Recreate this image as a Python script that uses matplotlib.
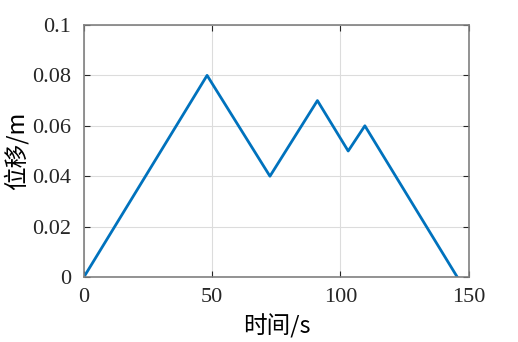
import numpy as np
import matplotlib
matplotlib.use("Agg")
import matplotlib.pyplot as plt

# time (s) and displacement (m)
t = [0, 48, 72.5, 91, 103, 109.5, 145.5]
disp = [0, 0.08, 0.04, 0.07, 0.05, 0.06, 0]

xticks = [0, 50, 100, 150]
yticks = [0, 0.02, 0.04, 0.06, 0.08, 0.1]
yticklabels = ["0", "0.02", "0.04", "0.06", "0.08", "0.1"]

serif = ["Liberation Serif", "DejaVu Serif"]
cjk = ["Noto Sans CJK SC", "DejaVu Sans"]

fig = plt.figure(figsize=(5.18, 3.42), dpi=100)
ax = fig.add_axes([0.162, 0.19, 0.743, 0.737])

ax.plot(t, disp, color="#0072BD", linewidth=2)

ax.set_xlim(0, 150)
ax.set_ylim(0, 0.1)
ax.set_xticks(xticks)
ax.set_yticks(yticks)
ax.set_xticklabels([str(v) for v in xticks], family=serif, fontsize=16)
ax.set_yticklabels(yticklabels, family=serif, fontsize=16)

ax.grid(True, color="#dcdcdc", linewidth=0.8)
ax.tick_params(direction="in", top=True, right=True, length=4,
               color="#262626", colors="#262626")
ax.tick_params(axis="x", pad=8)
ax.tick_params(axis="y", pad=9)
for s in ax.spines.values():
    s.set_color("#808080")
    s.set_linewidth(1.2)

ax.set_xlabel("时间/s", family=cjk, fontsize=17, labelpad=5)
ax.set_ylabel("位移/m", family=cjk, fontsize=17, labelpad=3)

fig.savefig("out.png", dpi=100)
